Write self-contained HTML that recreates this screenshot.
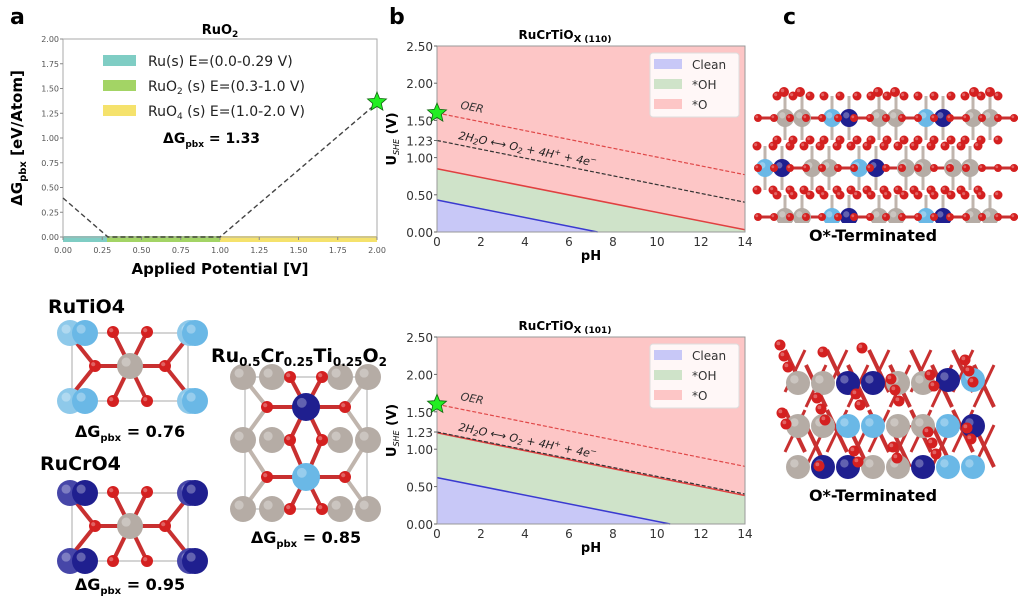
<!DOCTYPE html>
<html><head><meta charset="utf-8"><style>
html,body{margin:0;padding:0;background:#fff;}
svg{display:block;font-family:"DejaVu Sans","Liberation Sans",sans-serif;}
</style></head><body>
<svg id="s" width="1027" height="607" viewBox="0 0 1027 607" xmlns="http://www.w3.org/2000/svg">
<rect width="1027" height="607" fill="#fff"/>
<text x="10" y="24" font-size="22" font-weight="bold">a</text>
<text x="389" y="24" font-size="22" font-weight="bold">b</text>
<text x="783" y="24" font-size="22" font-weight="bold">c</text>

<text x="220" y="34" font-size="13" font-weight="bold" text-anchor="middle">RuO<tspan font-size="9" dy="3">2</tspan></text>
<rect x="63" y="236" width="44" height="6" fill="#7fcdc4"/>
<rect x="107" y="236" width="113" height="6" fill="#a3d465"/>
<rect x="220" y="236" width="157" height="6" fill="#f5e26c"/>
<rect x="63" y="39" width="314" height="198" fill="none" stroke="#aaa" stroke-width="1"/>
<g id="aticks" font-size="8" fill="#555"></g>
<polyline points="63,198 108,237 220,237 377,103" fill="none" stroke="#444" stroke-width="1.4" stroke-dasharray="5,3"/>
<rect x="103" y="55" width="33" height="11" fill="#7fcdc4"/>
<rect x="103" y="80" width="33" height="11" fill="#a3d465"/>
<rect x="103" y="105" width="33" height="11" fill="#f5e26c"/>
<g font-size="14" fill="#222">
<text x="148" y="66">Ru(s) E=(0.0-0.29 V)</text>
<text x="148" y="91">RuO<tspan font-size="9" dy="3">2</tspan><tspan dy="-3"> (s) E=(0.3-1.0 V)</tspan></text>
<text x="148" y="116">RuO<tspan font-size="9" dy="3">4</tspan><tspan dy="-3"> (s) E=(1.0-2.0 V)</tspan></text>
</g>
<text x="163" y="143" font-size="14" font-weight="bold">ΔG<tspan font-size="9" dy="4">pbx</tspan><tspan dy="-4"> = 1.33</tspan></text>
<text x="220" y="274" font-size="15" font-weight="bold" text-anchor="middle">Applied Potential [V]</text>
<text transform="translate(22,138) rotate(-90)" font-size="15" font-weight="bold" text-anchor="middle">ΔG<tspan font-size="10" dy="4">pbx</tspan><tspan dy="-4"> [eV/Atom]</tspan></text>

<g id="atoms"></g>
<g id="plotb"></g>

<text x="48" y="313" font-size="19" font-weight="bold">RuTiO4</text>
<text x="130" y="437" font-size="16" font-weight="bold" text-anchor="middle">ΔG<tspan font-size="10" dy="4">pbx</tspan><tspan dy="-4"> = 0.76</tspan></text>
<text x="40" y="470" font-size="19" font-weight="bold">RuCrO4</text>
<text x="130" y="590" font-size="16" font-weight="bold" text-anchor="middle">ΔG<tspan font-size="10" dy="4">pbx</tspan><tspan dy="-4"> = 0.95</tspan></text>
<text x="211" y="362" font-size="19" font-weight="bold">Ru<tspan font-size="12" dy="4">0.5</tspan><tspan dy="-4">Cr</tspan><tspan font-size="12" dy="4">0.25</tspan><tspan dy="-4">Ti</tspan><tspan font-size="12" dy="4">0.25</tspan><tspan dy="-4">O</tspan><tspan font-size="12" dy="4">2</tspan></text>
<text x="306" y="543" font-size="16" font-weight="bold" text-anchor="middle">ΔG<tspan font-size="10" dy="4">pbx</tspan><tspan dy="-4"> = 0.85</tspan></text>
<text x="873" y="241" font-size="16" font-weight="bold" text-anchor="middle">O*-Terminated</text>
<text x="873" y="501" font-size="16" font-weight="bold" text-anchor="middle">O*-Terminated</text>
</svg>
<script>
var NS="http://www.w3.org/2000/svg";
function el(parent,tag,attrs,txt){var e=document.createElementNS(NS,tag);for(var k in attrs)e.setAttribute(k,attrs[k]);if(txt!==undefined)e.textContent=txt;parent.appendChild(e);return e;}
var ga=document.getElementById('aticks');
for(var i=0;i<=8;i++){var v=i*0.25;var y=237-v*99;var x=63+v*157;
el(ga,'text',{x:59,y:y+3,'text-anchor':'end'},v.toFixed(2));
el(ga,'line',{x1:60,y1:y,x2:63,y2:y,stroke:'#888'});
el(ga,'text',{x:x,y:253,'text-anchor':'middle'},v.toFixed(2));
el(ga,'line',{x1:x,y1:237,x2:x,y2:240,stroke:'#888'});}
function star(g,cx,cy,r){var p=[];for(var i=0;i<10;i++){var a=-Math.PI/2+i*Math.PI/5;var rr=i%2?r*0.45:r;p.push((cx+rr*Math.cos(a)).toFixed(1)+','+(cy+rr*Math.sin(a)).toFixed(1));}
el(g,'polygon',{points:p.join(' '),fill:'#22ee22',stroke:'#116611','stroke-width':0.8});}
star(document.getElementById('s'),377,102,10);
var gb=document.getElementById('plotb');
function pb(top,bot,blue,red,title){
 var x0=437,x1=745,sc=(bot-top)/2.5;
 function X(p){return x0+p*22;} function Y(v){return bot-v*sc;}
 el(gb,'rect',{x:x0,y:top,width:x1-x0,height:bot-top,fill:'#fdc6c6'});
 el(gb,'polygon',{points:X(0)+','+Y(red[0])+' '+X(14)+','+Y(red[1])+' '+X(14)+','+bot+' '+X(0)+','+bot,fill:'#cfe3c9'});
 el(gb,'polygon',{points:X(0)+','+Y(blue[0])+' '+X(blue[1])+','+bot+' '+X(0)+','+bot,fill:'#c8c8f7'});
 el(gb,'line',{x1:X(0),y1:Y(blue[0]),x2:X(blue[1]),y2:bot,stroke:'#3a3ad0','stroke-width':1.5});
 el(gb,'line',{x1:X(0),y1:Y(red[0]),x2:X(14),y2:Y(red[1]),stroke:'#e04040','stroke-width':1.5});
 el(gb,'line',{x1:X(0),y1:Y(1.6),x2:X(14),y2:Y(0.77),stroke:'#e04848','stroke-width':1.2,'stroke-dasharray':'4,2'});
 el(gb,'line',{x1:X(0),y1:Y(1.23),x2:X(14),y2:Y(0.40),stroke:'#333','stroke-width':1.2,'stroke-dasharray':'4,2'});
 el(gb,'rect',{x:x0,y:top,width:x1-x0,height:bot-top,fill:'none',stroke:'#999','stroke-width':1});
 var t=el(gb,'text',{x:565,y:top-7,'font-size':12,'font-weight':'bold','text-anchor':'middle'});
 t.innerHTML='RuCrTiO<tspan font-size="10" dy="3">X</tspan><tspan font-size="9"> '+title+'</tspan>';
 [0,0.5,1.0,1.23,1.5,2.0,2.5].forEach(function(v){el(gb,'text',{x:433,y:Y(v)+5,'font-size':12,fill:'#333','text-anchor':'end'},v.toFixed(2));el(gb,'line',{x1:434,y1:Y(v),x2:437,y2:Y(v),stroke:'#666'});});
 for(var p=0;p<=14;p+=2){el(gb,'text',{x:X(p),y:bot+14,'font-size':12,fill:'#333','text-anchor':'middle'},p);}
 el(gb,'text',{x:591,y:bot+28,'font-size':13,'font-weight':'bold','text-anchor':'middle'},'pH');
 var yl=el(gb,'text',{transform:'translate(396,'+((top+bot)/2)+') rotate(-90)','font-size':13,'font-weight':'bold','text-anchor':'middle'});
 yl.innerHTML='U<tspan font-size="8" font-style="italic" font-weight="normal" dy="3">SHE</tspan><tspan dy="-3"> (V)</tspan>';
 var ang=Math.atan2(Y(0.77)-Y(1.6),X(14)-X(0))*180/Math.PI;
 el(gb,'text',{x:460,y:Y(1.66),'font-size':11,'font-style':'italic',fill:'#333',transform:'rotate('+ang+' 460 '+Y(1.66)+')'},'OER');
 var l=el(gb,'text',{x:458,y:Y(1.25),'font-size':11,'font-style':'italic',fill:'#222',transform:'rotate('+ang+' 458 '+Y(1.25)+')'});
 l.innerHTML='2H<tspan font-size="8" dy="2">2</tspan><tspan dy="-2">O ⟷ O</tspan><tspan font-size="8" dy="2">2</tspan><tspan dy="-2"> + 4H</tspan><tspan font-size="8" dy="-4">+</tspan><tspan dy="4"> + 4e</tspan><tspan font-size="8" dy="-4">−</tspan>';
 el(gb,'rect',{x:650,y:top+7,width:89,height:64,fill:'#fff','fill-opacity':0.85,stroke:'#ddd',rx:3});
 var cols=['#c8c8f7','#cfe3c9','#fdc6c6'],labs=['Clean','*OH','*O'];
 for(var i=0;i<3;i++){el(gb,'rect',{x:654,y:top+13+i*20,width:28,height:10,fill:cols[i]});el(gb,'text',{x:692,y:top+23+i*20,'font-size':12,fill:'#333'},labs[i]);}
 star(gb,X(0),Y(1.6),10);
}
pb(46,232,[0.43,7.3],[0.85,0.03],'(110)');
pb(337,524,[0.62,10.6],[1.22,0.38],'(101)');
var ga2=document.getElementById('atoms');
var C={O:'#d42020',Ru:'#b5aca5',Ti:'#6ab8e6',Cr:'#1f1f8f',Crl:'#4646a8'};
function bond(x1,y1,x2,y2,c,w){el(ga2,'line',{x1:x1,y1:y1,x2:x2,y2:y2,stroke:c||'#c83030','stroke-width':w||4});}
function at(x,y,r,c){el(ga2,'circle',{cx:x,cy:y,r:r,fill:c});el(ga2,'circle',{cx:x-r*0.3,cy:y-r*0.3,r:r*0.35,fill:'#fff','fill-opacity':0.3});}
function cell(ox,oy,corner,corner2){
 el(ga2,'rect',{x:ox-58,y:oy-33,width:116,height:68,fill:'none',stroke:'#aaa','stroke-width':1});
 var Os=[[-17,-34],[17,-34],[-35,0],[35,0],[-17,35],[17,35]];
 Os.forEach(function(o){bond(ox,oy,ox+o[0],oy+o[1]);});
 bond(ox-35,oy,ox-55,oy-25);bond(ox+35,oy,ox+55,oy-25);bond(ox-35,oy,ox-55,oy+25);bond(ox+35,oy,ox+55,oy+25);
 [[-60,-33],[60,-33],[-60,35],[60,35]].forEach(function(p){at(ox+p[0],oy+p[1],13,corner2);});
 [[-45,-33],[45,-33],[-45,35],[45,35]].forEach(function(p){at(ox+p[0]+(p[0]<0?0:20),oy+p[1],13,corner);});
 at(ox,oy,13,C.Ru);
 Os.forEach(function(o){at(ox+o[0],oy+o[1],6,C.O);});
}
cell(130,366,C.Ti,'#8ec9ea');
cell(130,526,C.Cr,C.Crl);
(function(){var xs=[243,272,340,368],ys=[377,440,509];
 el(ga2,'rect',{x:245,y:377,width:122,height:132,fill:'none',stroke:'#aaa'});
 var Ox=[[267,407],[345,407],[267,477],[345,477],[290,377],[322,377],[290,440],[322,440],[290,509],[322,509]];
 Ox.forEach(function(o){var cy=(o[1]<420)?407:477;if(o[1]==440){bond(306,407,o[0],o[1]);bond(306,477,o[0],o[1]);}else if(o[1]==377)bond(306,407,o[0],o[1]);else if(o[1]==509)bond(306,477,o[0],o[1]);else bond(306,cy,o[0],o[1]);});
 bond(243,377,267,407,'#c0b5ad');bond(243,440,267,407,'#c0b5ad');bond(243,440,267,477,'#c0b5ad');bond(243,509,267,477,'#c0b5ad');
 bond(368,377,345,407,'#c0b5ad');bond(368,440,345,407,'#c0b5ad');bond(368,440,345,477,'#c0b5ad');bond(368,509,345,477,'#c0b5ad');
 ys.forEach(function(y){xs.forEach(function(x){at(x,y,13,C.Ru);});});
 at(306,407,14,C.Cr);at(306,477,14,C.Ti);
 Ox.forEach(function(o){at(o[0],o[1],6,C.O);});
})();
(function(){var rows=[118,168,217];
 rows.forEach(function(y,ri){
  bond(755,y,1018,y,'#c83030',3);
  for(var k=0;k<5;k++){var bx=785+k*47+(ri==1?-20:0);
   for(var j=0;j<2;j++){var x=bx+j*17;bond(x,y-22,x,Math.min(y+22,222),'#c0b5ad',3);}
  }
 });
 var seq=[['Ru','Ru'],['Ti','Cr'],['Ru','Ru'],['Ti','Cr'],['Ru','Ru']];
 rows.forEach(function(y,ri){
  for(var k=0;k<5;k++){var bx=785+k*47+(ri==1?-20:0);
   var s=ri==1?seq[(k+1)%5]:seq[k];
   at(bx,y,9,C[s[0]]);at(bx+17,y,9,C[s[1]]);
   [[-8,-22],[8,-22],[25,-22],[-8,22],[25,22],[8,22]].forEach(function(o){if(y+o[1]<225)at(bx+o[0],y+o[1],4.5,C.O);});
  }
  for(var x=758;x<1018;x+=16)at(x,y,4,C.O);
 });
 [[784,92],[800,92],[878,92],[895,92],[974,92],[990,92]].forEach(function(p){at(p[0],p[1],5,C.O);});
 el(ga2,'rect',{x:752,y:223,width:275,height:30,fill:'#fff'});
})();
(function(){
 for(var i=0;i<20;i++){var x=785+(i%10)*21,y=350+Math.floor(i/10)*60+(i%2)*15;bond(x,y,x+20,y+42,'#c83030',4);bond(x+20,y,x,y+42,'#c83030',3);}
 var rows=[[383,['Ru','Ru','Cr','Cr','Ru','Ru','Cr','Ti']],[426,['Ru','Ru','Ti','Ti','Ru','Ru','Ti','Cr']],[467,['Ru','Cr','Cr','Ru','Ru','Cr','Ti','Ti']]];
 rows.forEach(function(r){r[1].forEach(function(s,k){var x=798+k*25;if(r[0]==467&&x>990)return;at(x,r[0]-(r[0]==383&&k>5?3:0),12,C[s]);});});
 for(var i=0;i<30;i++){var x=780+(i*37)%220,y=345+((i*53)%125);at(x,y,5.5,C.O);}
 el(ga2,'rect',{x:752,y:480,width:275,height:127,fill:'#fff'});
})();
</script>
</body></html>
